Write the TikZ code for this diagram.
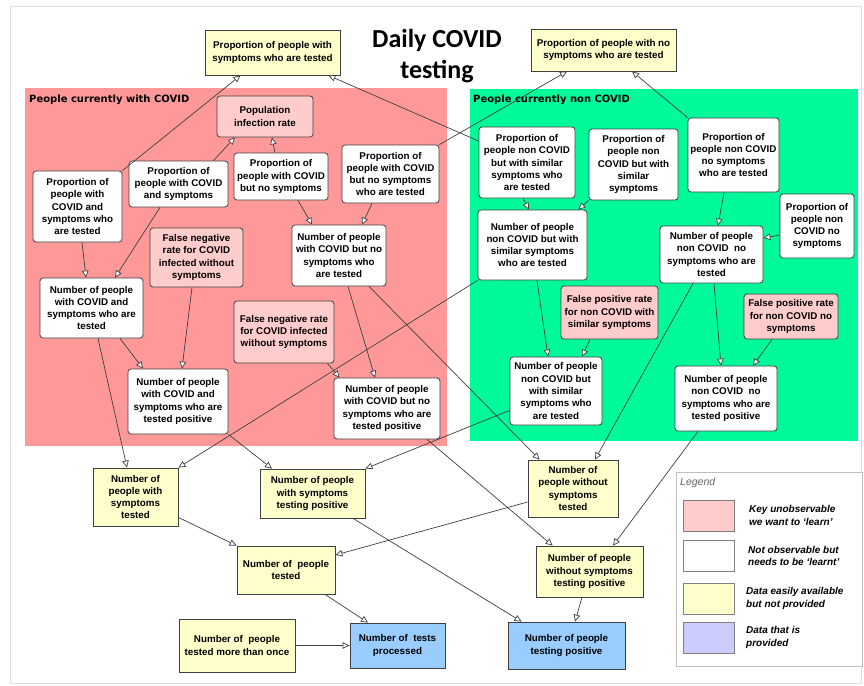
\documentclass[tikz,border=0pt]{standalone}
\usepackage{fontspec}
\setmainfont{Liberation Sans}
\newfontfamily\titlefont{Carlito}
\newfontfamily\labelfont{DejaVu Sans}
\usetikzlibrary{arrows.meta}
\definecolor{regpink}{HTML}{FF9999}
\definecolor{reggreen}{HTML}{00FA9A}
\definecolor{nodepink}{HTML}{FFCCCC}
\definecolor{nodeyellow}{HTML}{FFFFCC}
\definecolor{nodeblue}{HTML}{99CCFF}
\definecolor{legpurple}{HTML}{CCCCFF}
\definecolor{edgegray}{HTML}{404040}
\begin{document}
\begin{tikzpicture}[x=1pt,y=-1pt,
 box/.style={draw=edgegray, line width=0.8pt, align=center, inner sep=1pt,
   font=\bfseries\fontsize{9.8}{12.3}\selectfont},
 wbox/.style={box, fill=white, rounded corners=3pt},
 pbox/.style={box, fill=nodepink, rounded corners=3pt},
 ybox/.style={box, fill=nodeyellow},
 bbox/.style={box, fill=nodeblue},
 swatch/.style={draw=gray, line width=0.8pt, minimum width=51pt, minimum height=31pt, inner sep=0pt},
 legtext/.style={anchor=west, align=left, inner sep=0pt, font=\bfseries\itshape\fontsize{10}{12.5}\selectfont},
 arr/.style={draw=edgegray, line width=0.7pt, -{Triangle[length=7pt,width=6.5pt,fill=white]}},
 reglabel/.style={anchor=west, inner sep=0pt, font=\labelfont\bfseries\fontsize{10}{12}\selectfont},
]
\useasboundingbox (0,0) rectangle (864,685);
\fill[white] (0,0) rectangle (864,685);
\draw[black!12, line width=0.8pt] (10,6) rectangle (861,683);

% regions
\fill[regpink] (25,88) rectangle (447,446);
\fill[reggreen] (470,89) rectangle (858,441);
\node[reglabel] (lblpink) at (29,100) {People currently with COVID};
\node[reglabel] (lblgreen) at (473,100) {People currently non COVID};

% title
\node[anchor=base, inner sep=0pt, font=\titlefont\bfseries\fontsize{26}{30}\selectfont] (title1) at (437,48) {Daily COVID};
\node[anchor=base, inner sep=0pt, font=\titlefont\bfseries\fontsize{26}{30}\selectfont] (title2) at (437,78) {testing};

% top yellow
\node[ybox, minimum width=135pt, minimum height=45pt] (Y1) at (272.5,52.5) {Proportion of people with\\symptoms who are tested};
\node[ybox, minimum width=145pt, minimum height=42pt] (Y2) at (603.5,50) {Proportion of people with no\\symptoms who are tested};

% pink region nodes
\node[pbox, minimum width=96pt, minimum height=41pt] (P1) at (265,116.5) {Population\\infection rate};
\node[wbox, minimum width=89pt, minimum height=71pt] (P2) at (77.5,206.5) {Proportion of\\people with\\COVID and\\symptoms who\\are tested};
\node[wbox, minimum width=99pt, minimum height=46pt] (P3) at (178.5,184) {Proportion of\\people with COVID\\and symptoms};
\node[wbox, minimum width=94pt, minimum height=47pt] (P4) at (281,176.5) {Proportion of\\people with COVID\\but no symptoms};
\node[wbox, minimum width=97pt, minimum height=58pt] (P5) at (390.5,174) {Proportion of\\people with COVID\\but no symptoms\\who are tested};
\node[pbox, minimum width=93pt, minimum height=59pt] (P6) at (196.5,257.5) {False negative\\rate for COVID\\infected without\\symptoms};
\node[wbox, minimum width=103pt, minimum height=60pt] (P7) at (91.5,308) {Number of people\\with COVID and\\symptoms who are\\tested};
\node[wbox, minimum width=94pt, minimum height=61pt] (P8) at (339,255.5) {Number of people\\with COVID but no\\symptoms who\\are tested};
\node[pbox, minimum width=100pt, minimum height=62pt] (P9) at (284,332) {False negative rate\\for COVID infected\\without symptoms};
\node[wbox, minimum width=100pt, minimum height=65pt] (P10) at (178,401.5) {Number of people\\with COVID and\\symptoms who are\\tested positive};
\node[wbox, minimum width=106pt, minimum height=61pt] (P11) at (387,408.5) {Number of people\\with COVID but no\\symptoms who are\\tested positive};

% green region nodes
\node[wbox, minimum width=96pt, minimum height=71pt] (G1) at (527,162.5) {Proportion of\\people non COVID\\but with similar\\symptoms who\\are tested};
\node[wbox, minimum width=89pt, minimum height=71pt] (G2) at (633.5,164.5) {Proportion of\\people non\\COVID but with\\similar\\symptoms};
\node[wbox, minimum width=91pt, minimum height=74pt] (G3) at (733.5,155) {Proportion of\\people non COVID\\no symptoms\\who are tested};
\node[wbox, minimum width=74pt, minimum height=64pt] (G4) at (817,226) {Proportion of\\people non\\COVID no\\symptoms};
\node[wbox, minimum width=109pt, minimum height=70pt] (G5) at (532.5,245) {Number of people\\non COVID but with\\similar symptoms\\who are tested};
\node[wbox, minimum width=103pt, minimum height=57pt] (G6) at (711.5,254.5) {Number of people\\non COVID\ \ no\\symptoms who are\\tested};
\node[pbox, minimum width=97pt, minimum height=53pt] (G7) at (609.5,312.5) {False positive rate\\for non COVID with\\similar symptoms};
\node[pbox, minimum width=94pt, minimum height=45pt] (G8) at (791,316.5) {False positive rate\\for non COVID no\\symptoms};
\node[wbox, minimum width=92pt, minimum height=68pt] (G9) at (556,391) {Number of people\\non COVID but\\with similar\\symptoms who\\are tested};
\node[wbox, minimum width=102pt, minimum height=65pt] (G10) at (726,398.5) {Number of people\\non COVID\ \ no\\symptoms who are\\tested positive};

% bottom nodes
\node[ybox, minimum width=85pt, minimum height=58pt] (B1) at (135.5,497) {Number of\\people with\\symptoms\\tested};
\node[ybox, minimum width=105pt, minimum height=49pt] (B2) at (312.5,493.5) {Number of people\\with symptoms\\testing positive};
\node[ybox, minimum width=90pt, minimum height=57pt] (B3) at (573,488.5) {Number of\\people without\\symptoms\\tested};
\node[ybox, minimum width=98pt, minimum height=48pt] (B4) at (286,570) {Number of\ \ people\\tested};
\node[ybox, minimum width=107pt, minimum height=51pt] (B5) at (589.5,571.5) {Number of people\\without symptoms\\testing positive};
\node[ybox, minimum width=116pt, minimum height=53pt] (B6) at (237,645.5) {Number of\ \ people\\tested more than once};
\node[bbox, minimum width=95pt, minimum height=45pt] (B7) at (397.5,645.5) {Number of\ \ tests\\processed};
\node[bbox, minimum width=117pt, minimum height=47pt] (B8) at (566.5,645.5) {Number of people\\testing positive};

% legend
\node[draw=black!25, fill=white, line width=0.8pt, minimum width=186pt, minimum height=194pt, inner sep=0pt] (leg) at (769,569) {};
\node[anchor=west, inner sep=0pt, text=black!60, font=\itshape\fontsize{10.5}{12}\selectfont] (legtitle) at (680,483) {Legend};
\node[swatch, fill=nodepink] (s1) at (708.5,515.5) {};
\node[swatch, fill=white] (s2) at (708.5,556) {};
\node[swatch, fill=nodeyellow] (s3) at (708.5,598.5) {};
\node[swatch, fill=legpurple] (s4) at (708.5,637.5) {};
\node[legtext] (t1) at (749,515.5) {Key unobservable\\we want to `learn'};
\node[legtext] (t2) at (748,556) {Not observable but\\needs to be `learnt'};
\node[legtext] (t3) at (746,598.5) {Data easily available\\but not provided};
\node[legtext] (t4) at (746,637.5) {Data that is\\provided};

% edges
\draw[arr] (P2.north east) -- ([xshift=-32pt]Y1.south);
\draw[arr] ([yshift=21.5pt]G1.west) -- ([xshift=-12pt]Y1.south east);
\draw[arr] (P5.north east) -- ([xshift=-36.5pt]Y2.south);
\draw[arr] (G3.north west) -- ([xshift=28.5pt]Y2.south);
\draw[arr] ([xshift=-15pt]P3.north east) -- ([xshift=-30pt]P1.south);
\draw[arr] ([xshift=-6pt]P4.north) -- ([xshift=7pt]P1.south);
\draw[arr] ([xshift=17pt]P4.south) -- ([xshift=-27pt]P8.north);
\draw[arr] ([xshift=-18.5pt]P5.south) -- ([xshift=23pt]P8.north);
\draw[arr] ([xshift=4.5pt]P2.south) -- ([xshift=-5.5pt]P7.north);
\draw[arr] ([xshift=-18.5pt]P3.south) -- ([xshift=23.5pt]P7.north);
\draw[arr] ([xshift=28.5pt]P7.south) -- ([xshift=-35pt]P10.north);
\draw[arr] ([xshift=-4.5pt]P6.south) -- ([xshift=4pt]P10.north);
\draw[arr] ([xshift=6.5pt]P7.south) -- ([xshift=-8.5pt]B1.north);
\draw[arr] (P10.south east) -- ([xshift=-40.5pt]B2.north);
\draw[arr] ([xshift=9pt]P8.south) -- ([xshift=-12pt]P11.north);
\draw[arr] ([xshift=-7pt]P9.south east) -- ([xshift=6pt]P11.north west);
\draw[arr] ([xshift=30pt]P8.south) -- ([xshift=12pt]B3.north west);
\draw[arr] (G5.south west) -- (B1.north east);
\draw[arr] ([xshift=40pt]P11.south) -- ([xshift=17pt]B5.north west);
\draw[arr] ([yshift=15pt]G9.south west) -- (B2.north east);
\draw[arr] ([xshift=-28pt]G10.south) -- ([xshift=23.5pt]B5.north);
\draw[arr] ([xshift=-4pt]G1.south) -- ([xshift=-3.5pt]G5.north);
\draw[arr] (G2.south west) -- ([xshift=-9pt]G5.north east);
\draw[arr] ([xshift=-9.5pt]G3.south) -- ([xshift=6.5pt]G6.north);
\draw[arr] ([yshift=-9pt]G4.west) -- ([yshift=16.5pt]G6.east);
\draw[arr] ([xshift=4.5pt]G5.south) -- ([xshift=-8pt]G9.north);
\draw[arr] ([xshift=-19.5pt]G7.south) -- ([xshift=26pt]G9.north);
\draw[arr] ([xshift=2.5pt]G6.south) -- ([xshift=-5pt]G10.north);
\draw[arr] ([xshift=-19pt]G8.south) -- ([xshift=27pt]G10.north);
\draw[arr] ([xshift=-18.5pt]G6.south) -- ([xshift=22pt]B3.north);
\draw[arr] ([yshift=9pt]B1.south east) -- (B4.north west);
\draw[arr] ([yshift=-13.5pt]B3.west) -- ([yshift=15pt]B4.east);
\draw[arr] ([xshift=40.5pt]B2.south) -- ([xshift=14pt]B8.north west);
\draw[arr] ([xshift=39pt]B4.south) -- ([xshift=-29.5pt]B7.north);
\draw[arr] (B6.east) -- (B7.west);
\draw[arr] ([xshift=-7.5pt]B5.south) -- ([xshift=8.5pt]B8.north);
\end{tikzpicture}
\end{document}
